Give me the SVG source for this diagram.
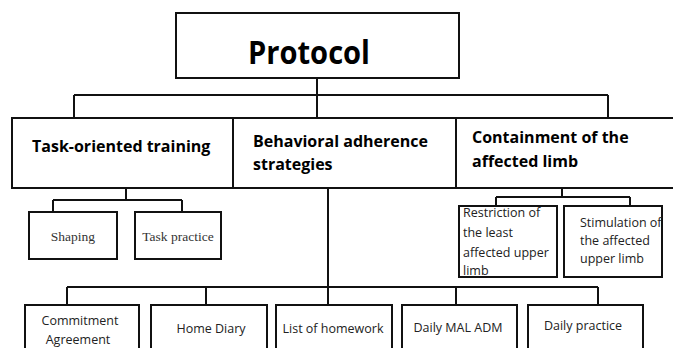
<svg xmlns="http://www.w3.org/2000/svg" width="673" height="348" viewBox="0 0 673 348">
<style>
.box{fill:#fff;stroke:#111;stroke-width:2}
.ln{fill:none;stroke:#111;stroke-width:2}
.h1{font-family:"Open Sans","Liberation Sans",sans-serif;font-weight:bold;fill:#000}
.h2{font-family:"Open Sans","Liberation Sans",sans-serif;font-weight:bold;font-size:16px;fill:#000}
.sf{font-family:"Liberation Serif","DejaVu Serif",serif;font-size:13.5px;fill:#333}
.rg{font-family:"Open Sans","Liberation Sans",sans-serif;font-size:12.5px;fill:#222}
</style>
<rect width="673" height="348" fill="#fff"/>
<g id="connectors">
<path class="ln" d="M317,78 V118 M74,95 H608 M74,95 V118 M608,95 V118"/>
<path class="ln" d="M126,188 V200 M53,200 H182 M53,200 V212 M182,200 V212"/>
<path class="ln" d="M562,188 V197 M496,197 H630 M496,197 V206 M630,197 V206"/>
<path class="ln" d="M328,188 V305 M67,287 H598 M67,287 V305 M206,287 V305 M456,287 V305 M598,287 V305"/>
</g>
<g id="protocol"><rect class="box" x="176" y="13" width="283" height="65"/><text class="h1" x="248" y="64" font-size="33" textLength="122" lengthAdjust="spacingAndGlyphs">Protocol</text></g>
<g id="task-oriented"><rect class="box" x="12" y="118" width="221" height="70"/><text class="h2" x="32" y="152">Task-oriented training</text></g>
<g id="behavioral"><rect class="box" x="233" y="118" width="223" height="70"/><text class="h2" x="253" y="147">Behavioral adherence</text><text class="h2" x="253" y="170">strategies</text></g>
<g id="containment"><rect class="box" x="456" y="118" width="220" height="70"/><text class="h2" x="472" y="143">Containment of the</text><text class="h2" x="472" y="167">affected limb</text></g>
<g id="shaping"><rect class="box" x="29" y="212" width="88" height="47"/><text class="sf" x="73" y="241" text-anchor="middle">Shaping</text></g>
<g id="task-practice"><rect class="box" x="135" y="212" width="86" height="47"/><text class="sf" x="178" y="241" text-anchor="middle">Task practice</text></g>
<g id="restriction"><rect class="box" x="459" y="206" width="98" height="71"/><text class="rg" x="463" y="217">Restriction of</text><text class="rg" x="463" y="237">the least</text><text class="rg" x="463" y="257">affected upper</text><text class="rg" x="463" y="275">limb</text></g>
<g id="stimulation"><rect class="box" x="564" y="206" width="98" height="71"/><text class="rg" x="580" y="227">Stimulation of</text><text class="rg" x="580" y="245">the affected</text><text class="rg" x="580" y="263">upper limb</text></g>
<g id="commitment"><rect class="box" x="25" y="305" width="114" height="50"/><text class="rg" x="80" y="325" text-anchor="middle">Commitment</text><text class="rg" x="78" y="344" text-anchor="middle">Agreement</text></g>
<g id="home-diary"><rect class="box" x="151" y="305" width="116" height="50"/><text class="rg" x="211" y="333" text-anchor="middle">Home Diary</text></g>
<g id="homework"><rect class="box" x="276" y="305" width="116" height="50"/><text class="rg" x="333" y="333" text-anchor="middle">List of homework</text></g>
<g id="daily-mal"><rect class="box" x="402" y="305" width="115" height="50"/><text class="rg" x="458" y="332" text-anchor="middle">Daily MAL ADM</text></g>
<g id="daily-practice"><rect class="box" x="528" y="305" width="115" height="50"/><text class="rg" x="583" y="330" text-anchor="middle">Daily practice</text></g>
</svg>
